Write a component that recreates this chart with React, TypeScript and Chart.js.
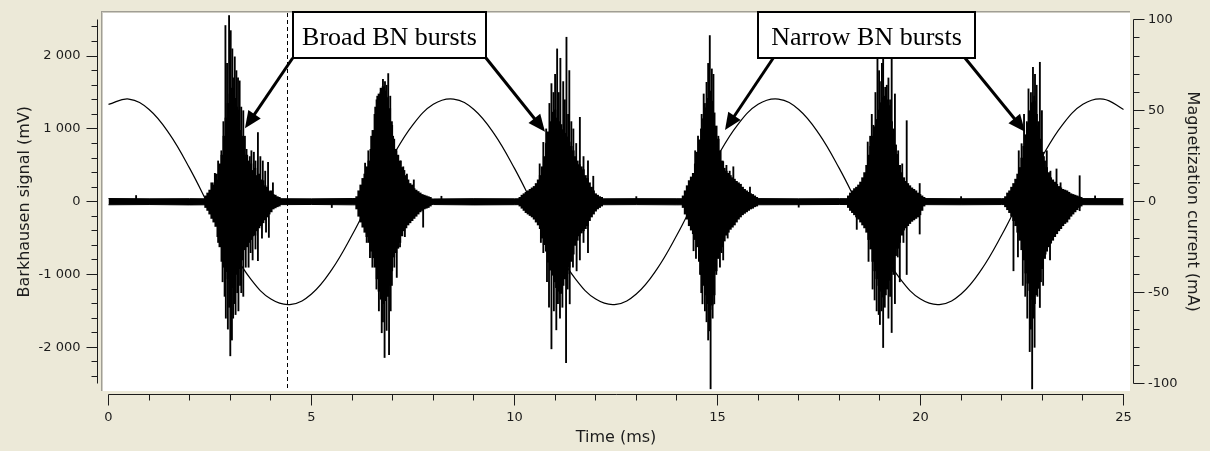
import React, { useEffect, useRef } from 'react';
import { Chart, registerables } from 'chart.js';

Chart.register(...registerables);

// ---------------- axes / ticks ----------------
const timeTicks = [0, 5, 10, 15, 20, 25];
const timeTickLabels = ['0', '5', '10', '15', '20', '25'];
const timeMinorTicks = [1, 2, 3, 4, 6, 7, 8, 9, 11, 12, 13, 14, 16, 17, 18, 19, 21, 22, 23, 24];
const timeAxisRange = [0, 25];

const signalTicks = [-2000, -1000, 0, 1000, 2000];
const signalTickLabels = ['-2 000', '-1 000', '0', '1 000', '2 000'];
const signalMinorTicks = [-2400, -2200, -1800, -1600, -1400, -1200, -800, -600, -400, -200, 200, 400, 600, 800, 1200, 1400, 1600, 1800, 2200, 2400];
const signalAxisRange = [-2500, 2500];

const currentTicks = [-100, -50, 0, 50, 100];
const currentTickLabels = ['-100', '-50', '0', '50', '100'];
const currentMinorTicks = [-90, -80, -70, -60, -40, -30, -20, -10, 10, 20, 30, 40, 60, 70, 80, 90];
const currentAxisRange = [-100, 100];

const axisTitles = ['Time (ms)', 'Barkhausen signal (mV)', 'Magnetization current (mA)'];

// ---------------- magnetization current (mA), every 0.5 ms ----------------
const currentStep = 0.5;
const currentValues = [
  53.5, 56.4, 50.7, 37.3, 18.3, -3.5, -24.9, -42.4, -53.5, -56.4, -50.7, -37.3, -18.3, 3.5, 24.9, 42.4, 53.5,
  56.4, 50.7, 37.3, 18.3, -3.5, -24.9, -42.4, -53.5, -56.4, -50.7, -37.3, -18.3, 3.5, 24.9, 42.4, 53.5,
  56.4, 50.7, 37.3, 18.3, -3.5, -24.9, -42.4, -53.5, -56.4, -50.7, -37.3, -18.3, 3.5, 24.9, 42.4, 53.5,
  56.4, 50.7,
];

// ---------------- Barkhausen baseline noise band (mV) ----------------
const baselineTimes = [0, 1, 2, 3, 4, 5, 6, 7, 8, 9, 10, 11, 12, 13, 14, 15, 16, 17, 18, 19, 20, 21, 22, 23, 24, 25];
const baselineHi = [44, 40, 42, 38, 42, 39, 44, 41, 38, 42, 40, 44, 39, 42, 41, 38, 43, 40, 42, 39, 44, 41, 42, 40, 43, 42];
const baselineLo = [-42, -39, -44, -40, -41, -38, -43, -42, -39, -44, -41, -38, -42, -40, -43, -39, -42, -41, -38, -44, -40, -42, -39, -43, -41, -42];

// ---------------- burst envelopes (mV), sampled every 0.05 ms ----------------
const burstStarts = [2.4, 6.12, 10.14, 14.16, 18.23, 22.1];
const burstStep = 0.05;

const burst1Hi = [80, 120, 160, 260, 230, 380, 300, 520, 640, 900, 1150, 1350, 1480, 1560, 1420, 1300, 1260, 980, 900, 620, 640, 560, 520, 430, 460, 360, 380, 300, 290, 220, 200, 140, 150, 100, 90, 70, 60];
const burst1Lo = [-80, -120, -170, -230, -280, -340, -480, -620, -820, -900, -960, -1060, -1130, -1180, -1080, -1000, -920, -860, -800, -660, -620, -560, -520, -470, -460, -400, -360, -330, -290, -250, -210, -170, -140, -100, -85, -70, -60];

const burst2Hi = [70, 150, 230, 320, 380, 480, 560, 720, 980, 1200, 1400, 1480, 1560, 1580, 1520, 1430, 1280, 1050, 860, 720, 640, 560, 470, 430, 360, 300, 250, 230, 180, 160, 140, 120, 100, 90, 80, 70, 60];
const burst2Lo = [-100, -200, -280, -350, -420, -480, -560, -680, -770, -900, -1060, -1230, -1340, -1400, -1360, -1300, -1150, -950, -760, -700, -640, -560, -470, -400, -360, -320, -290, -260, -230, -200, -170, -140, -120, -100, -90, -80, -60];

const burst3Hi = [60, 90, 110, 130, 150, 170, 190, 210, 250, 300, 360, 480, 620, 800, 960, 1100, 1230, 1260, 1150, 1100, 1060, 990, 940, 890, 820, 760, 700, 620, 560, 510, 480, 440, 360, 320, 260, 200, 150, 110, 90, 70, 60];
const burst3Lo = [-60, -90, -120, -150, -170, -190, -210, -240, -280, -320, -370, -500, -590, -680, -830, -940, -1010, -1100, -1180, -1230, -1260, -1150, -1060, -990, -900, -820, -720, -600, -530, -470, -430, -400, -370, -330, -260, -210, -170, -130, -100, -80, -60];

const burst4Hi = [80, 150, 220, 290, 340, 390, 520, 680, 850, 1000, 1140, 1290, 1420, 1520, 1380, 1220, 1040, 860, 700, 560, 460, 420, 390, 360, 330, 310, 280, 260, 240, 200, 170, 150, 130, 110, 100, 80, 60];
const burst4Lo = [-80, -170, -240, -330, -390, -440, -520, -620, -820, -1000, -1150, -1280, -1400, -1480, -1420, -1280, -950, -780, -680, -620, -540, -460, -420, -380, -350, -320, -280, -240, -210, -180, -160, -140, -120, -100, -90, -70, -60];

const burst5Hi = [80, 120, 150, 180, 200, 230, 270, 330, 400, 500, 640, 760, 900, 1030, 1130, 1260, 1360, 1430, 1450, 1400, 1320, 1100, 930, 780, 650, 500, 400, 330, 280, 250, 220, 190, 170, 150, 120, 100, 80, 60];
const burst5Lo = [-80, -120, -150, -180, -210, -240, -280, -320, -360, -420, -520, -650, -820, -950, -1060, -1150, -1230, -1310, -1280, -1200, -1080, -960, -860, -740, -640, -560, -460, -390, -360, -330, -300, -270, -250, -230, -210, -180, -120, -60];

const burst6Hi = [70, 120, 150, 200, 250, 310, 380, 470, 600, 760, 920, 1080, 1250, 1360, 1380, 1200, 1040, 860, 680, 560, 470, 400, 330, 300, 270, 240, 210, 190, 170, 160, 150, 130, 110, 100, 90, 80, 70, 60];
const burst6Lo = [-70, -110, -150, -200, -260, -330, -420, -530, -660, -800, -980, -1120, -1220, -1340, -1400, -1280, -1190, -1100, -920, -780, -680, -620, -570, -530, -480, -440, -400, -370, -330, -300, -280, -240, -200, -170, -140, -110, -80, -60];

// ---------------- individual spikes (ms, mV) ----------------
const spikeTimes = [
  // burst 1
  2.62, 2.78, 2.88, 2.92, 2.97, 3.01, 3.05, 3.11, 3.15, 3.19, 3.23, 3.32, 3.4, 3.48, 3.58, 3.68, 3.8, 3.93, 4.05,
  2.7, 2.83, 3.09, 3.27, 3.36, 3.52, 3.62, 3.74, 3.86,
  2.75, 2.86, 2.89, 2.94, 3.0, 3.04, 3.07, 3.13, 3.2, 3.27, 3.32, 3.45, 3.55, 3.68, 3.95,
  2.7, 2.81, 2.97, 3.1, 3.17, 3.24, 3.38, 3.5, 3.62, 3.78, 3.88,
  // burst 2
  6.32, 6.57, 6.7, 6.81, 6.85, 6.89, 6.94, 7.05, 7.14, 7.26, 7.52,
  6.4, 6.47, 6.62, 6.76, 6.98, 7.01, 7.09, 7.2, 7.35,
  6.44, 6.6, 6.8, 6.85, 6.91, 6.95, 7.1, 7.75,
  6.36, 6.5, 6.66, 6.73, 6.76, 6.98, 7.04, 7.18, 7.3,
  // burst 3
  10.71, 10.91, 10.96, 11.05, 11.13, 11.2, 11.28, 11.35, 11.45, 11.61, 11.81, 11.94,
  10.62, 10.78, 10.86, 11.0, 11.09, 11.24, 11.32, 11.4, 11.52, 11.7,
  10.71, 10.91, 11.03, 11.12, 11.27, 11.36, 11.53, 11.61, 11.81,
  10.65, 10.8, 10.85, 10.97, 11.07, 11.18, 11.31, 11.44, 11.7,
  // burst 4
  14.61, 14.69, 14.73, 14.81, 14.86, 14.9, 15.14, 15.39, 15.8,
  14.45, 14.52, 14.66, 14.77, 14.95, 15.02, 15.22, 15.3,
  14.41, 14.57, 14.63, 14.73, 14.81, 14.83, 14.92, 15.06, 15.14,
  14.47, 14.6, 14.69, 14.77, 14.88, 14.97, 15.1, 15.25,
  // burst 5
  18.76, 18.84, 18.94, 19.0, 19.08, 19.13, 19.21, 19.29, 19.37, 19.66, 19.98,
  18.7, 18.8, 18.89, 18.98, 19.05, 19.17, 19.25, 19.33, 19.45, 19.55,
  18.43, 18.92, 19.0, 19.08, 19.21, 19.29, 19.37, 19.49, 19.66, 19.98,
  18.72, 18.82, 18.87, 18.97, 19.04, 19.12, 19.25, 19.33, 19.44, 19.58,
  // burst 6
  22.49, 22.62, 22.77, 22.82, 22.86, 22.94, 22.99, 23.11, 23.35, 23.92,
  22.42, 22.55, 22.66, 22.72, 22.8, 22.9, 23.04, 23.2, 23.45,
  22.29, 22.58, 22.69, 22.75, 22.81, 22.94, 23.02, 23.19, 23.92,
  22.4, 22.52, 22.63, 22.72, 22.78, 22.88, 22.98, 23.08, 23.3,
  // baseline
  0.68, 5.5, 8.2, 13.0, 17.0, 21.0, 24.3,
];
const spikeValues = [
  // burst 1
  390, 700, 2420, 1900, 2557, 2350, 2100, 1990, 1800, 1700, 1660, 1250, 720, 620, 680, 950, 560, 540, 260,
  560, 1100, 1700, 1300, 900, 700, 560, 620, 420,
  -520, -1300, -1600, -1750, -2117, -1900, -1600, -1550, -1500, -1250, -1300, -900, -800, -810, -490,
  -560, -1100, -1450, -1400, -1250, -1150, -900, -700, -650, -500, -420,
  // burst 2
  530, 1300, 1500, 1650, 1600, 1760, 1450, 600, 520, 480, 300,
  700, 900, 1450, 1680, 1100, 900, 700, 560, 380,
  -770, -1200, -2140, -1768, -2100, -1500, -1040, -350,
  -560, -900, -1500, -1800, -1650, -1150, -900, -620, -480,
  // burst 3
  815, 1622, 1500, 2099, 1970, 1650, 2259, 1801, 1000, 1159, 560, 350,
  520, 1000, 1350, 1750, 1500, 1400, 1200, 1100, 800, 620,
  -700, -2021, -1760, -1600, -2210, -1403, -950, -800, -700,
  -560, -1100, -1450, -1500, -1400, -1450, -1200, -900, -560,
  // burst 4
  1200, 1350, 1640, 2282, 1824, 1750, 550, 480, 200,
  700, 900, 1480, 1900, 1000, 900, 500, 420,
  -674, -1000, -1403, -1650, -1774, -2570, -1403, -900, -800,
  -780, -1250, -1500, -1900, -1600, -1000, -700, -500,
  // burst 5
  900, 1050, 2350, 1650, 2450, 1572, 1700, 2300, 1480, 1113, 250,
  820, 1200, 1500, 1800, 1900, 1600, 1400, 1000, 700, 520,
  -380, -1500, -1687, -2003, -1600, -1797, -1400, -1100, -1000, -444,
  -820, -1200, -1350, -1550, -1500, -1450, -1300, -1000, -760, -560,
  // burst 6
  797, 1100, 1847, 1750, 1600, 1915, 1251, 700, 450, 357,
  700, 1200, 1550, 1500, 1450, 1100, 620, 420, 260,
  -949, -1300, -2059, -2571, -2000, -1453, -1150, -800, -124,
  -760, -1150, -1600, -1750, -1600, -1300, -900, -720, -480,
  // baseline
  85, -80, 75, 70, -75, 70, 80,
];

// ---------------- annotations (data units) ----------------
const markerTime = 4.4;
const calloutLabels = ['Broad BN bursts', 'Narrow BN bursts'];
const calloutLeft = [4.537, 15.998];
const calloutRight = [9.298, 21.34];
const calloutBottom = 1974;
const arrowFromTimes = [[4.537, 9.298], [16.374, 21.096]];
const arrowTipTimes = [[3.362, 10.751], [15.185, 22.574]];
const arrowTipValues = [[1008, 962], [985, 962]];

const PAGE_BG = '#ECE9D8';
const INK = '#1c1c1c';

function drawArrow(ctx: CanvasRenderingContext2D, x0: number, y0: number, x1: number, y1: number) {
  const ang = Math.atan2(y1 - y0, x1 - x0);
  const headLen = 17;
  const headHalf = 7.5;
  const bx = x1 - headLen * Math.cos(ang);
  const by = y1 - headLen * Math.sin(ang);
  ctx.lineWidth = 3;
  ctx.beginPath();
  ctx.moveTo(x0, y0);
  ctx.lineTo(bx + 2 * Math.cos(ang), by + 2 * Math.sin(ang));
  ctx.stroke();
  ctx.beginPath();
  ctx.moveTo(x1, y1);
  ctx.lineTo(bx + headHalf * Math.sin(ang), by - headHalf * Math.cos(ang));
  ctx.lineTo(bx - headHalf * Math.sin(ang), by + headHalf * Math.cos(ang));
  ctx.closePath();
  ctx.fill();
}

const decorPlugin = {
  id: 'decor',
  beforeDraw(chart: any) {
    const { ctx, chartArea: a, width, height } = chart;
    ctx.save();
    ctx.fillStyle = PAGE_BG;
    ctx.fillRect(0, 0, width, height);
    ctx.fillStyle = '#ffffff';
    ctx.fillRect(a.left, a.top, a.right - a.left, a.bottom - a.top);
    ctx.fillStyle = '#A09E94';
    ctx.fillRect(a.left, a.top, a.right - a.left, 1);
    ctx.fillRect(a.left, a.top, 1, a.bottom - a.top);
    ctx.fillStyle = '#CFCDC4';
    ctx.fillRect(a.left + 1, a.top + 1, a.right - a.left - 1, 1);
    ctx.fillRect(a.left + 1, a.top + 1, 1, a.bottom - a.top - 1);
    ctx.restore();
  },
  afterDatasetsDraw(chart: any) {
    const { ctx, chartArea: a, scales } = chart;
    const xs = scales.x;
    const ys = scales.y;
    ctx.save();
    const mx = Math.floor(xs.getPixelForValue(markerTime)) + 0.5;
    ctx.strokeStyle = '#000';
    ctx.lineWidth = 1;
    ctx.setLineDash([4, 3]);
    ctx.beginPath();
    ctx.moveTo(mx, a.top + 2);
    ctx.lineTo(mx, a.bottom);
    ctx.stroke();
    ctx.setLineDash([]);

    ctx.fillStyle = '#000';
    ctx.strokeStyle = '#000';
    const yb = ys.getPixelForValue(calloutBottom);
    for (let k = 0; k < calloutLabels.length; k++) {
      for (let j = 0; j < 2; j++) {
        drawArrow(
          ctx,
          xs.getPixelForValue(arrowFromTimes[k][j]),
          yb,
          xs.getPixelForValue(arrowTipTimes[k][j]),
          ys.getPixelForValue(arrowTipValues[k][j])
        );
      }
      const l = Math.round(xs.getPixelForValue(calloutLeft[k]));
      const r = Math.round(xs.getPixelForValue(calloutRight[k]));
      const t = a.top + 1;
      ctx.fillStyle = '#fff';
      ctx.fillRect(l, t, r - l, yb - t);
      ctx.lineWidth = 2;
      ctx.strokeRect(l, t, r - l, yb - t);
      ctx.fillStyle = '#000';
      ctx.font = '26px "Liberation Serif", "Times New Roman", serif';
      ctx.textAlign = 'center';
      ctx.textBaseline = 'alphabetic';
      ctx.fillText(calloutLabels[k], (l + r) / 2, yb - 13);
    }
    ctx.restore();
  },
  afterDraw(chart: any) {
    const { ctx, chartArea: a, scales } = chart;
    const xs = scales.x;
    const ys = scales.y;
    const y2 = scales.y2;
    ctx.save();
    ctx.strokeStyle = INK;
    ctx.fillStyle = INK;
    ctx.lineWidth = 1;
    const px = (v: number) => Math.floor(v) + 0.5;

    // ---- bottom time axis ----
    const ax = a.bottom + 3.5;
    ctx.beginPath();
    ctx.moveTo(px(xs.getPixelForValue(timeAxisRange[0])), ax);
    ctx.lineTo(px(xs.getPixelForValue(timeAxisRange[1])) + 0.5, ax);
    for (const t of timeTicks) {
      const x = px(xs.getPixelForValue(t));
      ctx.moveTo(x, ax);
      ctx.lineTo(x, ax + 11);
    }
    for (const t of timeMinorTicks) {
      const x = px(xs.getPixelForValue(t));
      ctx.moveTo(x, ax);
      ctx.lineTo(x, ax + 6);
    }
    ctx.stroke();
    ctx.font = '13px "DejaVu Sans", Verdana, sans-serif';
    ctx.textAlign = 'center';
    ctx.textBaseline = 'middle';
    timeTicks.forEach((t, i) => ctx.fillText(timeTickLabels[i], xs.getPixelForValue(t), ax + 23));
    ctx.font = '16px "DejaVu Sans", Verdana, sans-serif';
    ctx.fillText(
      axisTitles[0],
      (xs.getPixelForValue(timeAxisRange[0]) + xs.getPixelForValue(timeAxisRange[1])) / 2,
      ax + 43
    );

    // ---- left signal axis ----
    const lx = a.left - 3.5;
    ctx.beginPath();
    ctx.moveTo(lx, px(ys.getPixelForValue(signalAxisRange[1])));
    ctx.lineTo(lx, px(ys.getPixelForValue(signalAxisRange[0])));
    for (const v of signalTicks) {
      const y = px(ys.getPixelForValue(v));
      ctx.moveTo(lx, y);
      ctx.lineTo(lx - 11, y);
    }
    for (const v of signalMinorTicks) {
      const y = px(ys.getPixelForValue(v));
      ctx.moveTo(lx, y);
      ctx.lineTo(lx - 6, y);
    }
    ctx.stroke();
    ctx.font = '13px "DejaVu Sans", Verdana, sans-serif';
    ctx.textAlign = 'right';
    ctx.textBaseline = 'middle';
    signalTicks.forEach((v, i) => ctx.fillText(signalTickLabels[i], lx - 17, ys.getPixelForValue(v)));
    ctx.save();
    ctx.translate(lx - 73, ys.getPixelForValue(0));
    ctx.rotate(-Math.PI / 2);
    ctx.textAlign = 'center';
    ctx.font = '16px "DejaVu Sans", Verdana, sans-serif';
    ctx.fillText(axisTitles[1], 0, 0);
    ctx.restore();

    // ---- right current axis ----
    const rx = a.right + 3.5;
    ctx.beginPath();
    ctx.moveTo(rx, px(y2.getPixelForValue(currentAxisRange[1])));
    ctx.lineTo(rx, px(y2.getPixelForValue(currentAxisRange[0])));
    for (const v of currentTicks) {
      const y = px(y2.getPixelForValue(v));
      ctx.moveTo(rx, y);
      ctx.lineTo(rx + 11, y);
    }
    for (const v of currentMinorTicks) {
      const y = px(y2.getPixelForValue(v));
      ctx.moveTo(rx, y);
      ctx.lineTo(rx + 6, y);
    }
    ctx.stroke();
    ctx.font = '13px "DejaVu Sans", Verdana, sans-serif';
    ctx.textAlign = 'left';
    ctx.textBaseline = 'middle';
    currentTicks.forEach((v, i) => ctx.fillText(currentTickLabels[i], rx + 14.5, y2.getPixelForValue(v)));
    ctx.save();
    ctx.translate(rx + 58.5, y2.getPixelForValue(0));
    ctx.rotate(Math.PI / 2);
    ctx.textAlign = 'center';
    ctx.font = '16px "DejaVu Sans", Verdana, sans-serif';
    ctx.fillText(axisTitles[2], 0, 0);
    ctx.restore();

    ctx.restore();
  },
};

export default function App() {
  const ref = useRef<HTMLCanvasElement>(null);

  useEffect(() => {
    document.body.style.margin = '0';
    document.body.style.background = PAGE_BG;
    const canvas = ref.current;
    if (!canvas) return;

    const bursts = [
      [burst1Hi, burst1Lo],
      [burst2Hi, burst2Lo],
      [burst3Hi, burst3Lo],
      [burst4Hi, burst4Lo],
      [burst5Hi, burst5Lo],
      [burst6Hi, burst6Lo],
    ];
    const corePoints: { x: number; y: number[] }[] = [];
    bursts.forEach(([hi, lo], k) => {
      const n = Math.min(hi.length, lo.length);
      for (let i = 0; i < n; i++) {
        corePoints.push({ x: +(burstStarts[k] + i * burstStep).toFixed(3), y: [lo[i], hi[i]] });
      }
    });
    const n = Math.min(spikeTimes.length, spikeValues.length);
    const spikePoints = spikeTimes.slice(0, n).map((t, i) => ({ x: t, y: [0, spikeValues[i]] }));

    const chart = new Chart(canvas, {
      type: 'line',
      data: {
        datasets: [
          {
            type: 'line',
            label: 'Magnetization current',
            yAxisID: 'y2',
            data: currentValues.map((v, i) => ({ x: i * currentStep, y: v })),
            borderColor: '#000',
            borderWidth: 1.2,
            pointRadius: 0,
            tension: 0.4,
            fill: false,
          } as any,
          {
            type: 'line',
            label: 'Baseline hi',
            yAxisID: 'y',
            data: baselineTimes.map((t, i) => ({ x: t, y: baselineHi[i] })),
            borderColor: '#000',
            backgroundColor: '#000',
            borderWidth: 1,
            pointRadius: 0,
            fill: '+1',
          },
          {
            type: 'line',
            label: 'Baseline lo',
            yAxisID: 'y',
            data: baselineTimes.map((t, i) => ({ x: t, y: baselineLo[i] })),
            borderColor: '#000',
            backgroundColor: '#000',
            borderWidth: 1,
            pointRadius: 0,
            fill: false,
          },
          {
            type: 'bar',
            label: 'Burst core',
            yAxisID: 'y',
            data: corePoints,
            backgroundColor: '#000',
            borderWidth: 0,
            barThickness: 2.6,
            grouped: false,
          } as any,
          {
            type: 'bar',
            label: 'Spikes',
            yAxisID: 'y',
            data: spikePoints,
            backgroundColor: '#000',
            borderWidth: 0,
            barThickness: 1.2,
            grouped: false,
          } as any,
        ],
      },
      options: {
        responsive: false,
        maintainAspectRatio: false,
        animation: false,
        devicePixelRatio: 1,
        events: [],
        layout: { padding: { left: 101, top: 11, right: 80, bottom: 60 } },
        plugins: { legend: { display: false }, tooltip: { enabled: false } },
        scales: {
          x: { type: 'linear', min: -0.1847, max: 25.16, display: false, offset: false },
          y: { type: 'linear', min: -2600, max: 2619.5, display: false },
          y2: { type: 'linear', min: -104.0, max: 104.78, display: false, position: 'right' },
        },
      } as any,
      plugins: [decorPlugin],
    });
    return () => chart.destroy();
  }, []);

  return (
    <div style={{ position: 'fixed', left: 0, top: 0, width: 1210, height: 451, background: PAGE_BG }}>
      <canvas ref={ref} width={1210} height={451} style={{ display: 'block', width: 1210, height: 451 }} />
    </div>
  );
}
